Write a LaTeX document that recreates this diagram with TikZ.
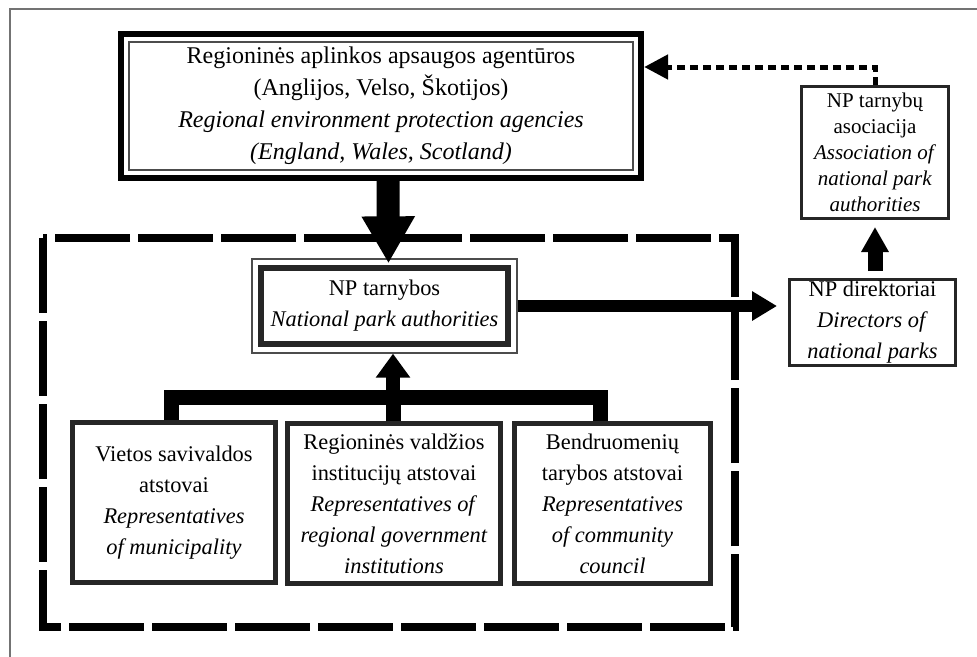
\documentclass[tikz,border=0pt]{standalone}
\usepackage{fontspec}
\setmainfont{Liberation Serif}
\usetikzlibrary{arrows.meta,positioning,fit,calc}

\begin{document}
\begin{tikzpicture}[x=1pt, y=-1pt, line join=miter,
box node/.style={rectangle,draw=black!85,line width=4.5pt,align=center,inner sep=0pt,font=\fontsize{22.4}{31}\selectfont},
thin frame/.style={rectangle,draw=black!70,line width=1.3pt,align=center,inner sep=0pt},
group frame/.style={line width=7.5pt,dash pattern=on 75pt off 8pt},
big arrow/.style={-{Triangle[length=47pt,width=50pt]},line width=23pt},
side arrow/.style={-{Triangle[length=25pt,width=28pt]},line width=12pt},
small arrow/.style={-{Triangle[length=25pt,width=26pt]},line width=15pt},
mid arrow/.style={-{Triangle[length=24pt,width=33pt]},line width=14pt},
dash arrow/.style={-{Triangle[length=24pt,width=24pt]},line width=5pt,dash pattern=on 8pt off 5pt},
tree line/.style={line width=15pt}]
\useasboundingbox (0,0) rectangle (977,656);
\draw[black!55, line width=1.2pt] (10,9) rectangle (1000,680);%page frame
\draw[group frame] (43,238) rectangle (735,627);
\begin{scope}
\node[thin frame, minimum width=504pt, minimum height=128pt, font=\fontsize{24}{32}\selectfont] (agency) at (381,106) {Regioninės aplinkos apsaugos agentūros\\(Anglijos, Velso, Škotijos)\\\textit{Regional environment protection agencies}\\\textit{(England, Wales, Scotland)}};
\node[fit=(agency), draw, line width=6pt, inner sep=7.5pt] (agencyframe) {};
\node[box node, line width=6pt, minimum width=247pt, minimum height=76pt] (np) at (384.5,306) {NP tarnybos\\\textit{National park authorities}};
\node[thin frame, fit=(np), inner sep=6pt] (npframe) {};
\node[box node, line width=3pt, minimum width=166pt, minimum height=86pt] (directors) at (872.5,322.5) {NP direktoriai\\\textit{Directors of}\\\textit{national parks}};
\node[box node, line width=3pt, minimum width=147pt, minimum height=132pt, font=\fontsize{21}{26}\selectfont] (association) at (875,152.5) {NP tarnybų\\asociacija\\\textit{Association of}\\\textit{national park}\\\textit{authorities}};
\node[box node, minimum width=203pt, minimum height=160pt] (municipality) at (174,502.5) {Vietos savivaldos\\atstovai\\\textit{Representatives}\\\textit{of municipality}};
\node[box node, minimum width=213pt, minimum height=160pt] (government) at (394,503.5) {Regioninės valdžios\\institucijų atstovai\\\textit{Representatives of}\\\textit{regional government}\\\textit{institutions}};
\node[box node, minimum width=196pt, minimum height=160pt] (council) at (612.5,503.5) {Bendruomenių\\tarybos atstovai\\\textit{Representatives}\\\textit{of community}\\\textit{council}};
\end{scope}
\begin{scope}
\coordinate (joint) at (393,397);
\coordinate (turn) at (875,67);
\draw[big arrow] ([xshift=7pt]agencyframe.south) -- ([xshift=4pt,yshift=-5pt]npframe.north);
\draw[side arrow, shorten >=11pt] (npframe.east) -- (npframe.east -| directors.west);
\draw[small arrow, shorten <=7pt, shorten >=7pt] (association.south |- directors.north) -- (association.south);
\draw[dash arrow] (association.north) -- (turn) -- (turn -| agencyframe.east);
\draw[tree line] ([xshift=-3pt]municipality.north) |- (joint) -| ([xshift=-12.5pt]council.north);
\draw[tree line] (government.north -| joint) -- (joint);
\draw[mid arrow] (joint) -- (joint |- npframe.south);
\end{scope}
\end{tikzpicture}
\end{document}
